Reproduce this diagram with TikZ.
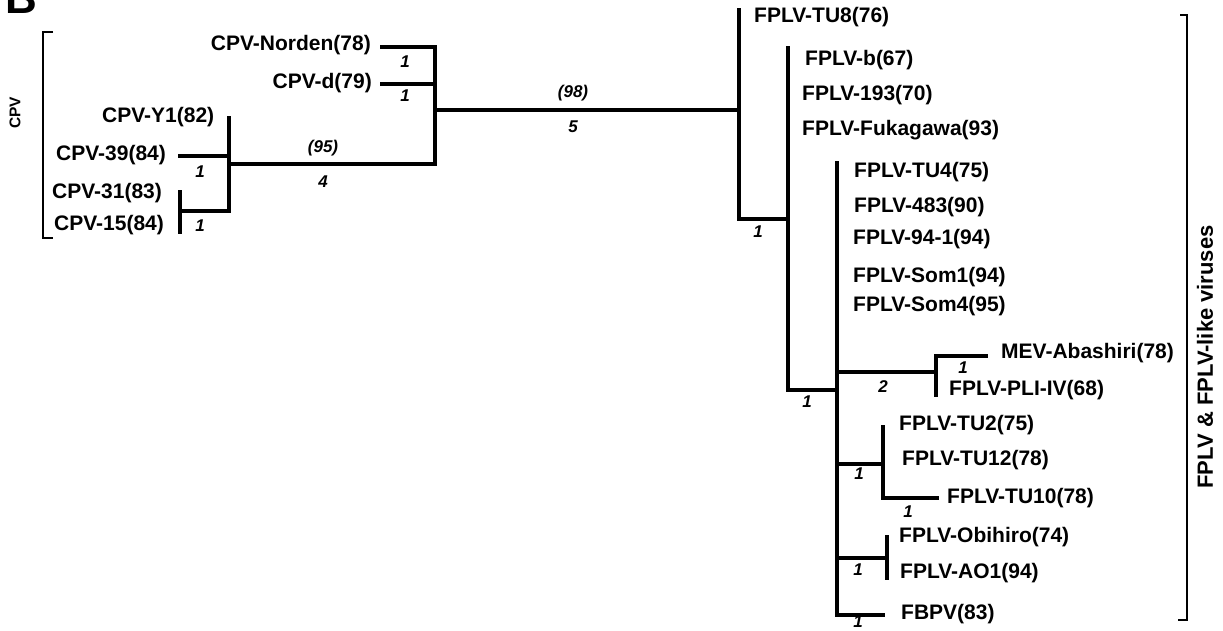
\documentclass[tikz,border=0pt]{standalone}
\usepackage{fontspec}
\setmainfont{Liberation Sans}
\begin{document}
\begin{tikzpicture}[x=1pt,y=-1pt,
  tx/.style={font=\fontsize{21}{24}\selectfont\bfseries, inner sep=0pt, anchor=west},
  txr/.style={tx, anchor=east},
  bl/.style={font=\fontsize{17}{19}\selectfont\bfseries\itshape, inner sep=0pt},
  br/.style={line width=3.1pt, line cap=rect},
  bk/.style={line width=2.3pt}]
\useasboundingbox (0,0) rectangle (1223,630);
% panel letter
\node[font=\fontsize{44}{48}\selectfont\bfseries, inner sep=0pt, anchor=base west] (panel) at (5,13) {B};
% ---------------- CPV labels
\node[txr] (norden) at (371,45) {CPV-Norden(78)};
\node[txr] (cpvd) at (372,83) {CPV-d(79)};
\node[tx] (y1) at (102,117) {CPV-Y1(82)};
\node[tx] (c39n) at (56,155) {CPV-39(84)};
\node[tx] (c31n) at (52,193) {CPV-31(83)};
\node[tx] (c15n) at (54,225) {CPV-15(84)};
\node[font=\fontsize{15.5}{18}\selectfont\bfseries, inner sep=0pt, rotate=90] (cpvlab) at (15,113) {CPV};
% ---------------- FPLV labels
\node[tx] (tu8) at (754,17) {FPLV-TU8(76)};
\node[tx] (fb) at (805,60) {FPLV-b(67)};
\node[tx] (f193) at (802,95) {FPLV-193(70)};
\node[tx] (fuk) at (802,130) {FPLV-Fukagawa(93)};
\node[tx] (tu4) at (854,172) {FPLV-TU4(75)};
\node[tx] (f483) at (854,207) {FPLV-483(90)};
\node[tx] (f941) at (853,239) {FPLV-94-1(94)};
\node[tx] (som1) at (853,277) {FPLV-Som1(94)};
\node[tx] (som4) at (853,306) {FPLV-Som4(95)};
\node[tx] (mev) at (1001,353) {MEV-Abashiri(78)};
\node[tx] (pli) at (949,390) {FPLV-PLI-IV(68)};
\node[tx] (tu2) at (899,425) {FPLV-TU2(75)};
\node[tx] (tu12) at (902,460) {FPLV-TU12(78)};
\node[tx] (tu10) at (947,498) {FPLV-TU10(78)};
\node[tx] (obi) at (899,537) {FPLV-Obihiro(74)};
\node[tx] (ao1) at (900,573) {FPLV-AO1(94)};
\node[tx] (fbpv) at (901,614) {FBPV(83)};
\node[font=\fontsize{22}{26}\selectfont\bfseries, inner sep=0pt, rotate=90] (fplvlab) at (1205,357) {FPLV \& FPLV-like viruses};
% ---------------- tree coordinates
\coordinate (a1) at (435,47); \coordinate (a2) at (435,84);
\coordinate (a) at (435,110); \coordinate (a3) at (435,164);
\coordinate (n1) at (382,47); \coordinate (n2) at (382,84);
\coordinate (b1) at (229,118); \coordinate (b3) at (229,156);
\coordinate (b) at (229,164); \coordinate (b2) at (229,211);
\coordinate (c39) at (180,156);
\coordinate (c1) at (180,192); \coordinate (c) at (180,211); \coordinate (c2) at (180,232);
\coordinate (d) at (739,110); \coordinate (d1) at (739,10); \coordinate (d2) at (739,219);
\coordinate (e0) at (788,219); \coordinate (e1) at (788,48); \coordinate (e2) at (788,390);
\coordinate (f0) at (837,390); \coordinate (f1) at (837,163); \coordinate (f3) at (837,615);
\coordinate (fg) at (837,372); \coordinate (g) at (936,372);
\coordinate (g1) at (936,356); \coordinate (g2) at (936,395); \coordinate (gm) at (986,356);
\coordinate (fh) at (837,464); \coordinate (h) at (883,464);
\coordinate (h1) at (883,427); \coordinate (h2) at (883,498); \coordinate (ht) at (937,498);
\coordinate (fi) at (837,558); \coordinate (i) at (887,558);
\coordinate (i1) at (887,537); \coordinate (i2) at (887,578);
\coordinate (fbp) at (883,615);
% ---------------- branches
\draw[br] (a1) -- (a3);
\draw[br] (n1) -- (a1);
\draw[br] (n2) -- (a2);
\draw[br] (b1) -- (b2);
\draw[br] (b) -- (a3);
\draw[br] (c39) -- (b3);
\draw[br] (c1) -- (c2);
\draw[br] (c) -- (b2);
\draw[br] (a) -- (d);
\draw[br] (d1) -- (d2);
\draw[br] (d2) -- (e0);
\draw[br] (e1) -- (e2);
\draw[br] (e2) -- (f0);
\draw[br] (f1) -- (f3);
\draw[br] (fg) -- (g);
\draw[br] (g1) -- (g2);
\draw[br] (g1) -- (gm);
\draw[br] (fh) -- (h);
\draw[br] (h1) -- (h2);
\draw[br] (h2) -- (ht);
\draw[br] (fi) -- (i);
\draw[br] (i1) -- (i2);
\draw[br] (f3) -- (fbp);
% ---------------- branch labels
\node[bl] (l1) at (405,62) {1};
\node[bl] (l2) at (405,96) {1};
\node[bl] (l3) at (200,172) {1};
\node[bl] (l4) at (200,226) {1};
\node[bl] (l5) at (323,148) {(95)};
\node[bl] (l6) at (323,182) {4};
\node[bl] (l7) at (573,93) {(98)};
\node[bl] (l8) at (573,127) {5};
\node[bl] (l9) at (758,232) {1};
\node[bl] (l10) at (807,402) {1};
\node[bl] (l11) at (883,387) {2};
\node[bl] (l12) at (963,368) {1};
\node[bl] (l13) at (859,474) {1};
\node[bl] (l14) at (908,512) {1};
\node[bl] (l15) at (858,570) {1};
\node[bl] (l16) at (858,622) {1};
% ---------------- group brackets
\draw[bk] (53,32) -- (43,32) -- (43,238) -- (53,238);
\draw[bk] (1180,15) -- (1187,15) -- (1187,620) -- (1178,620);
\end{tikzpicture}
\end{document}
